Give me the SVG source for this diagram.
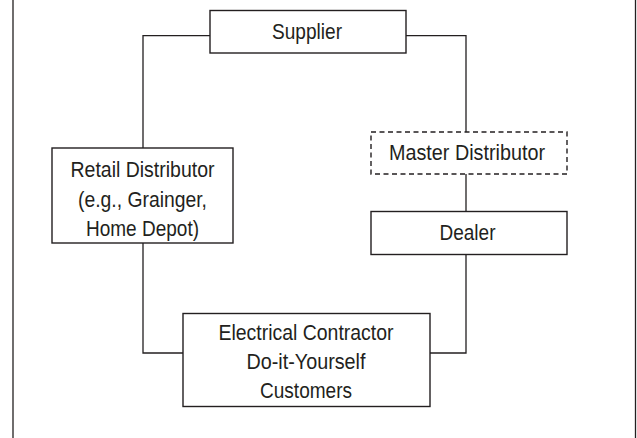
<svg xmlns="http://www.w3.org/2000/svg" width="637" height="438" viewBox="0 0 637 438">
<style>
.box{fill:#fff;stroke:#231f20;stroke-width:1.4}
.dash{stroke-dasharray:5 3.5}
.ln{fill:none;stroke:#231f20;stroke-width:1.3}
text{font-family:"Liberation Sans",Arial,sans-serif;font-size:22px;fill:#231f20;text-anchor:middle}
</style>
<rect x="0" y="0" width="637" height="438" fill="#fff"/>
<g id="frame">
<line class="ln" x1="13" y1="0" x2="13" y2="438"/>
<line class="ln" x1="635.5" y1="0" x2="635.5" y2="438"/>
</g>
<g id="connectors">
<polyline class="ln" points="210,35.7 143,35.7 143,148"/>
<polyline class="ln" points="406,35.7 466,35.7 466,132"/>
<line class="ln" x1="466" y1="174" x2="466" y2="211.5"/>
<polyline class="ln" points="143,243 143,353 183,353"/>
<polyline class="ln" points="466,254.5 466,353 430,353"/>
</g>
<g id="supplier">
<rect class="box" x="210" y="10.5" width="196" height="42.5"/>
<text x="307" y="38.5" textLength="70" lengthAdjust="spacingAndGlyphs">Supplier</text>
</g>
<g id="retail">
<rect class="box" x="52" y="148" width="181" height="95"/>
<text x="142.5" y="177" textLength="144" lengthAdjust="spacingAndGlyphs">Retail Distributor</text>
<text x="142.5" y="206.5" textLength="129" lengthAdjust="spacingAndGlyphs">(e.g., Grainger,</text>
<text x="142.5" y="235.5" textLength="113" lengthAdjust="spacingAndGlyphs">Home Depot)</text>
</g>
<g id="master">
<rect class="box dash" x="371" y="132" width="196" height="42"/>
<text x="467" y="160" textLength="156" lengthAdjust="spacingAndGlyphs">Master Distributor</text>
</g>
<g id="dealer">
<rect class="box" x="371" y="211.5" width="196" height="43"/>
<text x="467.5" y="240" textLength="56" lengthAdjust="spacingAndGlyphs">Dealer</text>
</g>
<g id="customers">
<rect class="box" x="183" y="313.5" width="247" height="93"/>
<text x="306" y="340" textLength="175" lengthAdjust="spacingAndGlyphs">Electrical Contractor</text>
<text x="306" y="368.5" textLength="119" lengthAdjust="spacingAndGlyphs">Do-it-Yourself</text>
<text x="306" y="398" textLength="92" lengthAdjust="spacingAndGlyphs">Customers</text>
</g>
</svg>
